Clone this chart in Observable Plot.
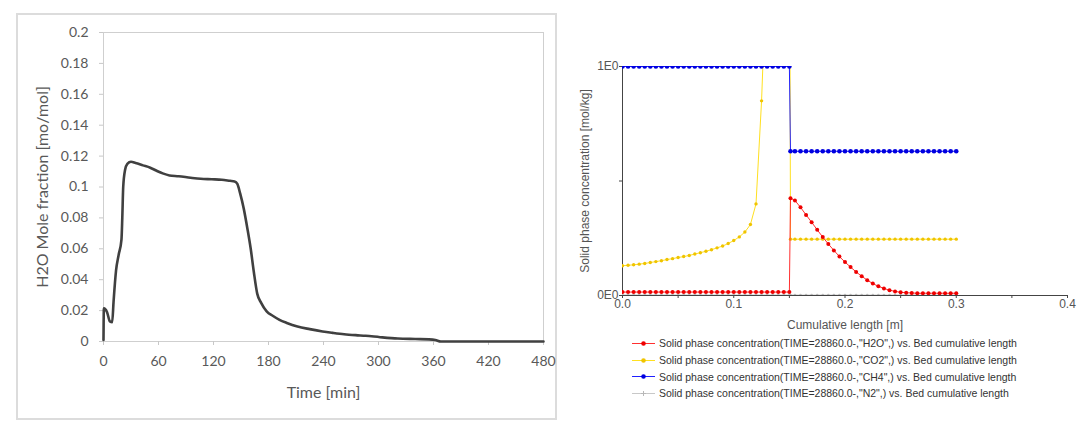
<!DOCTYPE html>
<html>
<head>
<meta charset="utf-8">
<script src="https://cdn.jsdelivr.net/npm/d3@7"></script>
<script src="https://cdn.jsdelivr.net/npm/@observablehq/plot@0.6"></script>
<style>
  html, body { margin: 0; padding: 0; background: #fff; }
  #page { position: relative; width: 1091px; height: 426px; overflow: hidden; background: #fff; }
  #leftBorder { position: absolute; left: 16px; top: 13px; width: 537px; height: 403px; border: 2px solid #dcdcdc; }
  #left { position: absolute; left: 0; top: 0; }
  #right { position: absolute; left: 560px; top: 0; }
  #legend { position: absolute; left: 632px; top: 335px; font-family: "Liberation Sans", Arial, sans-serif; font-size: 10.5px; color: #333; }
  .row { height: 16.7px; display: flex; align-items: center; white-space: nowrap; }
  .row svg { margin-right: 3px; flex: none; }
</style>
</head>
<body>
<div id="page">
  <div id="leftBorder"></div>
  <div id="left"></div>
  <div id="right"></div>
  <div id="legend"></div>
</div>
<script>
// ---------- Left chart data: H2O mole fraction vs time ----------
const timeMin = [0, 0.4, 3.9, 7, 9.5, 11, 13.7, 16.5, 19.6, 20.5, 21.5, 23.5, 26, 30, 35, 43, 51, 58, 64.6, 72, 82, 95, 106, 118, 129, 138, 143, 146, 149, 153, 157, 160.6, 164, 167.7, 172, 178, 185, 192, 200, 211.6, 225, 239, 250, 262.5, 275, 286, 301.7, 321, 340, 355, 362, 368, 480];
const h2oFraction = [0.001, 0.0215, 0.019, 0.013, 0.0125, 0.026, 0.046, 0.056, 0.066, 0.080, 0.100, 0.111, 0.115, 0.1163, 0.1155, 0.114, 0.1125, 0.1105, 0.1088, 0.1075, 0.107, 0.106, 0.1053, 0.105, 0.1047, 0.104, 0.1036, 0.102, 0.096, 0.086, 0.073, 0.060, 0.045, 0.031, 0.025, 0.0195, 0.0165, 0.014, 0.012, 0.0097, 0.008, 0.0065, 0.0056, 0.0047, 0.0041, 0.0037, 0.0028, 0.0019, 0.0016, 0.0014, 0.001, 0, 0];
const leftXTicks = [0, 60, 120, 180, 240, 300, 360, 420, 480];
const leftYTicks = [0, 0.02, 0.04, 0.06, 0.08, 0.1, 0.12, 0.14, 0.16, 0.18, 0.2];

// ---------- Right chart data: solid phase concentration vs bed length ----------
const bedLength = [0.000, 0.005, 0.010, 0.015, 0.020, 0.025, 0.030, 0.035, 0.040, 0.045, 0.050, 0.055, 0.060, 0.065, 0.070, 0.075, 0.080, 0.085, 0.090, 0.095, 0.100, 0.105, 0.110, 0.115, 0.120, 0.125, 0.130, 0.135, 0.140, 0.145, 0.150, 0.151, 0.155, 0.160, 0.165, 0.170, 0.175, 0.180, 0.185, 0.190, 0.195, 0.200, 0.205, 0.210, 0.215, 0.220, 0.225, 0.230, 0.235, 0.240, 0.245, 0.250, 0.255, 0.260, 0.265, 0.270, 0.275, 0.280, 0.285, 0.290, 0.295, 0.300];
const concH2O = [0.015, 0.015, 0.015, 0.015, 0.015, 0.015, 0.015, 0.015, 0.015, 0.015, 0.015, 0.015, 0.015, 0.015, 0.015, 0.015, 0.015, 0.015, 0.015, 0.015, 0.015, 0.015, 0.015, 0.015, 0.015, 0.015, 0.015, 0.015, 0.015, 0.015, 0.015, 0.425, 0.415, 0.385, 0.352, 0.320, 0.287, 0.255, 0.225, 0.197, 0.170, 0.146, 0.124, 0.103, 0.084, 0.067, 0.052, 0.040, 0.031, 0.023, 0.018, 0.014, 0.012, 0.011, 0.010, 0.010, 0.010, 0.010, 0.010, 0.010, 0.010, 0.010];
const concCO2 = [0.130, 0.132, 0.134, 0.137, 0.140, 0.144, 0.148, 0.152, 0.157, 0.161, 0.166, 0.170, 0.175, 0.181, 0.187, 0.193, 0.200, 0.208, 0.216, 0.227, 0.240, 0.256, 0.277, 0.310, 0.400, 0.850, 1.5, 1.8, 2.0, 2.1, 2.2, 0.246, 0.246, 0.246, 0.246, 0.246, 0.246, 0.246, 0.246, 0.246, 0.246, 0.246, 0.246, 0.246, 0.246, 0.246, 0.246, 0.246, 0.246, 0.246, 0.246, 0.246, 0.246, 0.246, 0.246, 0.246, 0.246, 0.246, 0.246, 0.246, 0.246, 0.246];
const concCH4 = [1, 1, 1, 1, 1, 1, 1, 1, 1, 1, 1, 1, 1, 1, 1, 1, 1, 1, 1, 1, 1, 1, 1, 1, 1, 1, 1, 1, 1, 1, 1, 0.63, 0.63, 0.63, 0.63, 0.63, 0.63, 0.63, 0.63, 0.63, 0.63, 0.63, 0.63, 0.63, 0.63, 0.63, 0.63, 0.63, 0.63, 0.63, 0.63, 0.63, 0.63, 0.63, 0.63, 0.63, 0.63, 0.63, 0.63, 0.63, 0.63, 0.63];
const concN2 = [0.002, 0.002, 0.002, 0.002, 0.002, 0.002, 0.002, 0.002, 0.002, 0.002, 0.002, 0.002, 0.002, 0.002, 0.002, 0.002, 0.002, 0.002, 0.002, 0.002, 0.002, 0.002, 0.002, 0.002, 0.002, 0.002, 0.002, 0.002, 0.002, 0.002, 0.002, 0.002, 0.002, 0.002, 0.002, 0.002, 0.002, 0.002, 0.002, 0.002, 0.002, 0.002, 0.002, 0.002, 0.002, 0.002, 0.002, 0.002, 0.002, 0.002, 0.002, 0.002, 0.002, 0.002, 0.002, 0.002, 0.002, 0.002, 0.002, 0.002, 0.002, 0.002];
const rightXTicks = [0, 0.1, 0.2, 0.3, 0.4];
const rightXMinorTicks = [0.05, 0.15, 0.25, 0.35];
const rightYTicks = [0, 1];
const rightYMinorTicks = [0.5];
const rightYTickLabels = ["0E0", "1E0"];

const seriesNames = ["H2O", "CO2", "CH4", "N2"];
const seriesLine = ["#ff3030", "#ffe020", "#2020ff", "#c8c8c8"];
const seriesDot = ["#ee0000", "#f0c400", "#0000e0", "#b8b8b8"];
const seriesValues = [concH2O, concCO2, concCH4, concN2];

// ---------- Left chart ----------
const leftData = timeMin.map((t, i) => ({t, v: h2oFraction[i]}));
const left = Plot.plot({
  width: 560, height: 426,
  marginLeft: 103, marginRight: 17, marginTop: 32, marginBottom: 85,
  style: {fontFamily: "Lato, 'Open Sans', sans-serif", fontSize: "14px", color: "#595959", background: "transparent"},
  x: {domain: [0, 480]},
  y: {domain: [0, 0.2]},
  marks: [
    Plot.frame({stroke: "#cfcfcf"}),
    Plot.axisX({ticks: leftXTicks, tickSize: 4, tickPadding: 11, tickFormat: d => String(d), stroke: "#c8c8c8", label: null, fontSize: 14}),
    Plot.axisY({ticks: leftYTicks, tickSize: 4, tickPadding: 11, tickFormat: d => String(d), stroke: "#c8c8c8", label: null, fontSize: 14}),
    Plot.axisX({ticks: [], label: "Time [min]", labelArrow: "none", labelAnchor: "center", labelOffset: 56, fontSize: 16}),
    Plot.axisY({ticks: [], label: "H2O Mole fraction [mo/mol]", labelArrow: "none", labelAnchor: "center", labelOffset: 67, fontSize: 16}),
    Plot.line(leftData, {x: "t", y: "v", stroke: "#404040", strokeWidth: 2.6, curve: "monotone-x"})
  ]
});
document.getElementById("left").appendChild(left);

// ---------- Right chart ----------
const rightData = [];
seriesNames.forEach((s, k) => bedLength.forEach((x, i) => rightData.push({series: s, k, x, v: seriesValues[k][i]})));
const order = [3, 1, 0, 2];
const rightMarks = [];
order.forEach(k => {
  const d = rightData.filter(r => r.k === k);
  rightMarks.push(Plot.line(d, {x: "x", y: "v", stroke: seriesLine[k], strokeWidth: 1, clip: true}));
  rightMarks.push(Plot.dot(d, {x: "x", y: "v", fill: seriesDot[k], r: k === 2 ? 2.3 : k === 0 ? 2 : k === 1 ? 1.7 : 1.3, clip: true}));
});
const right = Plot.plot({
  width: 531, height: 335,
  marginLeft: 62, marginRight: 24, marginTop: 66, marginBottom: 40,
  style: {fontFamily: "'Liberation Sans', Arial, sans-serif", fontSize: "12px", color: "#555", background: "transparent"},
  x: {domain: [0, 0.4]},
  y: {domain: [0, 1]},
  marks: [
    Plot.ruleX([0], {stroke: "#444"}),
    Plot.ruleY([0], {stroke: "#444"}),
    Plot.axisX({ticks: rightXMinorTicks, tickSize: 3, tickFormat: () => "", stroke: "#444", label: null}),
    Plot.axisY({ticks: rightYMinorTicks, tickSize: 3, tickFormat: () => "", stroke: "#444", label: null}),
    ...rightMarks,
    Plot.axisX({ticks: rightXTicks, tickSize: 3, tickPadding: 1, tickFormat: d3.format(".1f"), stroke: "#444", label: "Cumulative length [m]", labelArrow: "none", labelAnchor: "center", labelOffset: 33, fontSize: 12}),
    Plot.axisY({ticks: rightYTicks, tickSize: 3, tickPadding: 1, tickFormat: d => rightYTickLabels[rightYTicks.indexOf(d)], stroke: "#444", label: null, fontSize: 12}),
    Plot.axisY({ticks: [], label: "Solid phase concentration [mol/kg]", labelArrow: "none", labelAnchor: "center", labelOffset: 42, fontSize: 12})
  ]
});
document.getElementById("right").appendChild(right);

// ---------- Legend ----------
const legend = document.getElementById("legend");
seriesNames.forEach((s, k) => {
  const row = document.createElement("div");
  row.className = "row";
  const marker = k === 3
    ? `<line x1="11.5" y1="3" x2="11.5" y2="8" stroke="${seriesDot[k]}"/><line x1="9" y1="5.5" x2="14" y2="5.5" stroke="${seriesDot[k]}"/>`
    : `<circle cx="11.5" cy="5.5" r="2.3" fill="${seriesDot[k]}"/>`;
  row.innerHTML = `<svg width="24" height="11"><line x1="0" y1="5.5" x2="23" y2="5.5" stroke="${seriesLine[k]}" stroke-width="1"/>${marker}</svg><span>Solid phase concentration(TIME=28860.0-,"${s}",) vs. Bed cumulative length</span>`;
  legend.appendChild(row);
});
</script>
</body>
</html>
